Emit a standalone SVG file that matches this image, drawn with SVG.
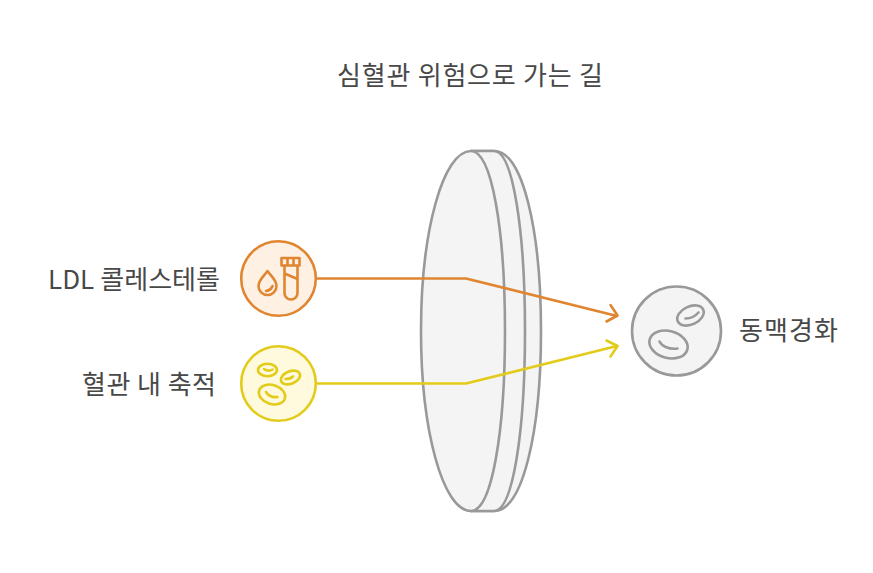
<svg xmlns="http://www.w3.org/2000/svg" width="873" height="573" viewBox="0 0 873 573">
<style>
text{font-family:"Noto Sans CJK KR","Noto Sans",sans-serif;font-size:26px;fill:#484848}
.g{fill:#f4f4f4;stroke:#999;stroke-width:2.600;stroke-linejoin:round}
.gl{fill:none;stroke:#999;stroke-width:2.600;stroke-linecap:round}
.o{fill:none;stroke:#e08530;stroke-width:2.600;stroke-linecap:round;stroke-linejoin:round}
.y{fill:none;stroke:#e3cb19;stroke-width:2.600;stroke-linecap:round;stroke-linejoin:round}
</style>
<rect width="873" height="573" fill="#fff"/>
<text x="337" y="85" textLength="266" lengthAdjust="spacing">심혈관 위험으로 가는 길</text>
<g id="lens">
<path class="g" d="M494 151C523 151 541 231 541 331C541 431 523 511 494 511H471V151Z"/>
<path class="g" d="M471 151H494C513 151 525 231 525 331C525 431 513 511 494 511H471Z"/>
<path class="g" d="M471 151C443 151 421 231 421 331C421 431 443 511 471 511C492 511 505 431 505 331C505 231 492 151 471 151Z"/>
</g>
<g id="connectors">
<path class="o" d="M316 278.500H466L617 316"/>
<path class="o" d="M610.500 305L617.500 315.500L606.500 321.500"/>
<path class="y" d="M316 383.500H466L617 346"/>
<path class="y" d="M606.500 340.500L617.500 346L610.500 356.500"/>
</g>
<g id="ldl">
<circle cx="278.500" cy="278.500" r="37.300" fill="#fef0e3" stroke="#e08530" stroke-width="2.600"/>
<path class="o" d="M267.500 271C264 276 258.500 280 258.500 286A9 9 0 0 0 276.500 286C276.500 280 271 276 267.500 271Z"/>
<path class="o" d="M266 291C269 290.500 271.500 289 272.500 286"/>
<path class="o" d="M281.500 258H299.500V265.500H281.500ZM287.500 258V265.500M293.500 258V265.500M284.500 265.500V293A6.500 6.500 0 0 0 297.500 293V265.500M284.500 273.500L297.500 279"/>
<text x="48" y="289" textLength="172" lengthAdjust="spacing">LDL 콜레스테롤</text>
</g>
<g id="plaque">
<circle cx="278.500" cy="383.500" r="37.300" fill="#fffadd" stroke="#e3cb19" stroke-width="2.600"/>
<ellipse class="y" cx="267.500" cy="370" rx="9.500" ry="6.200"/>
<path class="y" d="M264 369C267 371 270 371 272.500 369.500"/>
<ellipse class="y" cx="290.500" cy="377.500" rx="10" ry="6.200" transform="rotate(-22 290.500 377.500)"/>
<path class="y" d="M285.500 379C288.500 379 291 378.500 293 376.500"/>
<ellipse class="y" cx="272" cy="394.500" rx="13.500" ry="9.500" transform="rotate(18 272 394.500)"/>
<path class="y" d="M266 392C268 395.500 272 397.500 277.500 397"/>
<text x="82" y="394" textLength="134" lengthAdjust="spacing">혈관 내 축적</text>
</g>
<g id="atherosclerosis">
<circle cx="676.500" cy="331" r="44.500" fill="#f4f4f4" stroke="#999" stroke-width="2.600"/>
<ellipse class="gl" cx="690.500" cy="315.500" rx="14" ry="9" transform="rotate(-25 690.500 315.500)"/>
<path class="gl" d="M685.500 318.500C690 318.500 695 316.500 698.500 312.500"/>
<ellipse class="gl" cx="668.500" cy="344.500" rx="19.500" ry="13.500" transform="rotate(15 668.500 344.500)"/>
<path class="gl" d="M659.500 341.500C662 346.500 669 349.500 677.500 348.500"/>
<text x="739" y="340" textLength="99" lengthAdjust="spacing">동맥경화</text>
</g>
</svg>
